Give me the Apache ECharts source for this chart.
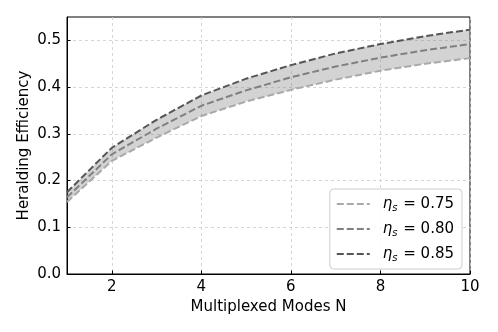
<!DOCTYPE html>
<html>
<head>
<meta charset="utf-8">
<script src="https://cdn.jsdelivr.net/npm/echarts@6/dist/echarts.min.js"></script>
<style>html,body{margin:0;padding:0;background:#fff}#c{width:498px;height:332px}</style>
</head>
<body>
<div id="c"></div>
<script>
const modes = [1, 2, 3, 4, 5, 6, 7, 8, 9, 10];
const eta075 = [0.154, 0.242, 0.292, 0.338, 0.369, 0.394, 0.416, 0.435, 0.450, 0.462];
const eta080 = [0.164, 0.256, 0.311, 0.360, 0.393, 0.421, 0.444, 0.463, 0.479, 0.492];
const eta085 = [0.175, 0.270, 0.330, 0.382, 0.418, 0.447, 0.472, 0.492, 0.509, 0.523];
const xTicks = [2, 4, 6, 8, 10];
const yTicks = [0, 0.1, 0.2, 0.3, 0.4, 0.5];
const names = ['η075', 'η080', 'η085'];
const labels = ['0.75', '0.80', '0.85'];

const FONT = 'DejaVu Sans';
const pair = a => a.map((v, i) => [modes[i], v]);

const lineSeries = (name, data, color) => ({
  name, type: 'line', data: pair(data), symbol: 'none', z: 5,
  lineStyle: { color, width: 2, type: [7, 3] },
  itemStyle: { color }
});

const chart = echarts.init(document.getElementById('c'), null, { renderer: 'canvas' });
chart.setOption({
  animation: false,
  textStyle: { fontFamily: FONT },
  grid: { left: 67, right: 28, top: 17, bottom: 58, show: true, borderColor: '#000', borderWidth: 1, backgroundColor: 'transparent' },
  xAxis: {
    type: 'value', min: 1, max: 10,
    name: 'Multiplexed Modes N', nameLocation: 'middle', nameGap: 18,
    nameTextStyle: { fontSize: 15, color: '#000', fontFamily: FONT },
    axisLine: { lineStyle: { color: '#000', width: 1 } },
    axisTick: { inside: true, length: 3.5, customValues: xTicks, lineStyle: { color: '#000' } },
    axisLabel: { customValues: xTicks, fontSize: 15, color: '#000', margin: 6, fontFamily: FONT },
    splitLine: { show: true, lineStyle: { color: '#cccccc', type: [3, 3], width: 0.8 } }
  },
  yAxis: {
    type: 'value', min: 0, max: 0.55,
    name: 'Heralding Efficiency', nameLocation: 'middle', nameGap: 35, nameRotate: 90, nameMoveOverlap: false,
    nameTextStyle: { fontSize: 15, color: '#000', fontFamily: FONT },
    axisLine: { show: true, lineStyle: { color: '#000', width: 1 } },
    axisTick: { show: true, inside: true, length: 3.5, customValues: yTicks, lineStyle: { color: '#000' } },
    axisLabel: { customValues: yTicks, fontSize: 15, color: '#000', margin: 6, fontFamily: FONT, formatter: v => v.toFixed(1) },
    splitLine: { show: true, lineStyle: { color: '#cccccc', type: [3, 3], width: 0.8 } }
  },
  legend: {
    orient: 'vertical', right: 36, top: 189,
    data: names,
    backgroundColor: 'rgba(255,255,255,0.85)', borderColor: '#cccccc', borderWidth: 1, borderRadius: 4,
    padding: [5, 8, 6, 6], itemGap: 6, itemWidth: 33, itemHeight: 14,
    itemStyle: { opacity: 0 },
    formatter: n => '{i|η}{s|s}{t| = ' + labels[names.indexOf(n)] + '}',
    textStyle: {
      fontFamily: FONT, color: '#000',
      rich: {
        i: { fontSize: 15, fontStyle: 'italic', fontFamily: FONT, color: '#000', lineHeight: 18, verticalAlign: 'middle', padding: [0, 0, 0, 8] },
        s: { fontSize: 10, fontStyle: 'italic', fontFamily: FONT, color: '#000', lineHeight: 18, verticalAlign: 'bottom', padding: [9, 0, 0, 0] },
        t: { fontSize: 15, fontFamily: FONT, color: '#000', lineHeight: 18, padding: [0, 0, 0, 1] }
      }
    }
  },
  series: [
    {
      name: 'band', type: 'custom', silent: true, z: 1,
      data: [0],
      renderItem: (params, api) => {
        const pts = [];
        eta085.forEach((v, i) => pts.push(api.coord([modes[i], v])));
        for (let i = eta075.length - 1; i >= 0; i--) pts.push(api.coord([modes[i], eta075[i]]));
        return { type: 'polygon', shape: { points: pts }, style: { fill: 'rgba(128,128,128,0.35)' } };
      }
    },
    lineSeries('η075', eta075, '#a9a9a9'),
    lineSeries('η080', eta080, '#808080'),
    lineSeries('η085', eta085, '#555555')
  ]
});
</script>
</body>
</html>
